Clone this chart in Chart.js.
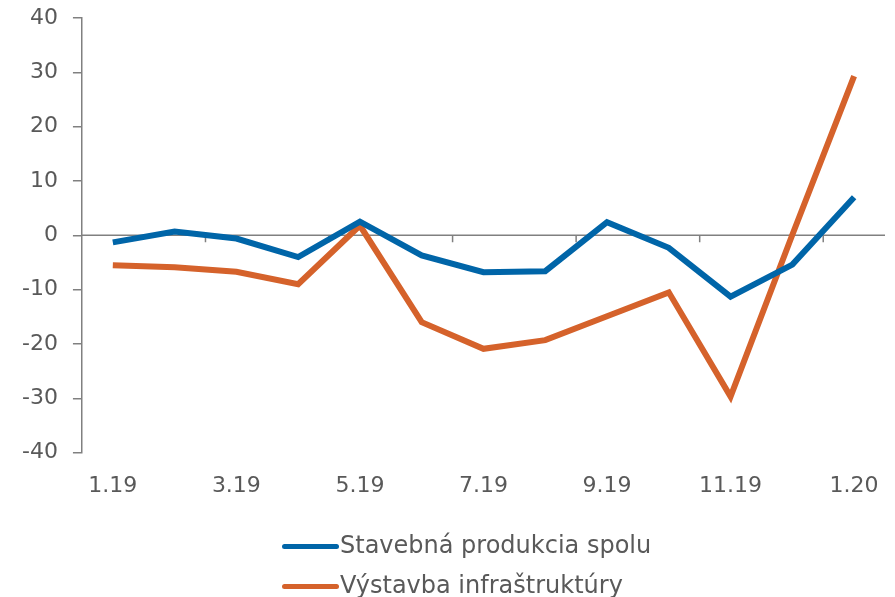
<!DOCTYPE html>
<html>
<head>
  <title>Stavebná produkcia</title>
  <script src="https://cdn.jsdelivr.net/npm/chart.js"></script>
  <style>
    body { margin: 0; background: #fff; }
    .wrap { position: relative; width: 895px; height: 597px; }
    #legend {
      position: absolute; left: 282px; top: 525px;
      font-family: 'DejaVu Sans', Verdana, sans-serif; font-size: 24px; color: #595959;
    }
    #legend div { height: 40px; line-height: 40px; white-space: nowrap; }
    #legend span.mark {
      display: inline-block; width: 57px; height: 5px; border-radius: 3px;
      vertical-align: middle; margin-right: 1px;
    }
  </style>
</head>
<body>
  <div class="wrap">
    <canvas id="myChart" width="895" height="597"></canvas>
    <div id="legend"></div>
  </div>
  <script>
    const months = ['1.19', '2.19', '3.19', '4.19', '5.19', '6.19', '7.19', '8.19', '9.19', '10.19', '11.19', '12.19', '1.20'];
    const totalName = 'Stavebná produkcia spolu';
    const totalValues = [-1.3, 0.7, -0.6, -4.0, 2.5, -3.7, -6.8, -6.6, 2.4, -2.3, -11.3, -5.4, 7.0];
    const infraName = 'Výstavba infraštruktúry';
    const infraValues = [-5.5, -5.9, -6.7, -9.0, 1.8, -16.0, -20.9, -19.3, -14.9, -10.5, -29.7, 0.1, 29.3];

    const blue = '#0065A8';
    const orange = '#D5622B';
    const axisGray = '#808080';

    Chart.defaults.font.family = "'DejaVu Sans', Verdana, sans-serif";
    Chart.defaults.color = '#595959';

    // zero line with small ticks every two months, drawn under the lines
    const zeroAxis = {
      id: 'zeroAxis',
      beforeDatasetsDraw(chart) {
        const { ctx, chartArea, scales } = chart;
        const y0 = scales.y.getPixelForValue(0);
        ctx.save();
        ctx.strokeStyle = axisGray;
        ctx.lineWidth = 1.5;
        ctx.beginPath();
        ctx.moveTo(chartArea.left, y0);
        ctx.lineTo(chartArea.right, y0);
        for (let i = 1.5; i < months.length - 1; i += 2) {
          const x = scales.x.getPixelForValue(i);
          ctx.moveTo(x, y0);
          ctx.lineTo(x, y0 + 7);
        }
        ctx.stroke();
        ctx.restore();
      }
    };

    new Chart(document.getElementById('myChart').getContext('2d'), {
      type: 'line',
      data: {
        labels: months,
        datasets: [
          { label: totalName, data: totalValues, borderColor: blue, backgroundColor: blue, borderWidth: 6, pointRadius: 0, tension: 0 },
          { label: infraName, data: infraValues, borderColor: orange, backgroundColor: orange, borderWidth: 6, pointRadius: 0, tension: 0 }
        ]
      },
      options: {
        responsive: false,
        animation: false,
        layout: { padding: { top: 0, right: 10, bottom: 86, left: 7 } },
        plugins: { legend: { display: false }, tooltip: { enabled: false } },
        scales: {
          x: {
            offset: true,
            grid: { display: false },
            border: { display: false },
            ticks: {
              autoSkip: false, maxRotation: 0, padding: 12,
              font: { size: 22 },
              callback: (v, i) => (i % 2 === 0 ? months[i] : '')
            }
          },
          y: {
            min: -40, max: 40,
            border: { display: true, color: axisGray, width: 1.5 },
            grid: { drawOnChartArea: false, drawTicks: true, tickLength: 9, color: axisGray, lineWidth: 1.5 },
            ticks: { stepSize: 10, padding: 15, font: { size: 22 } },
            afterFit: (scale) => { scale.paddingTop = 18; scale.paddingBottom = 13; }
          }
        }
      },
      plugins: [zeroAxis]
    });

    const legend = document.getElementById('legend');
    [[totalName, blue], [infraName, orange]].forEach(([name, color]) => {
      const row = document.createElement('div');
      row.innerHTML = `<span class="mark" style="background:${color}"></span>${name}`;
      legend.appendChild(row);
    });
  </script>
</body>
</html>
